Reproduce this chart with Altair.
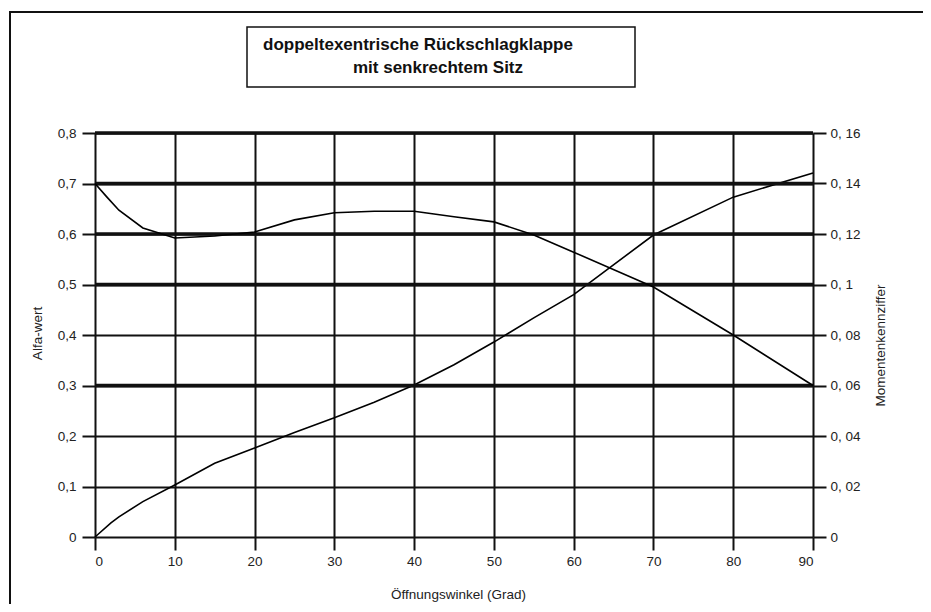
import altair as alt
import pandas as pd

# ---- data ----
winkel_alfa = [0, 2, 3, 6, 10, 15, 20, 25, 30, 35, 40, 45, 50, 55, 60, 70, 80, 90]
alfa = [0, 0.028, 0.04, 0.07, 0.103, 0.146, 0.176, 0.207, 0.236, 0.267, 0.301,
        0.341, 0.386, 0.434, 0.48, 0.598, 0.673, 0.721]

winkel_moment = [0, 1.5, 3, 6, 10, 15, 20, 25, 30, 35, 40, 45, 50, 55, 60, 70, 80, 90]
moment = [0.14, 0.1346, 0.1294, 0.1224, 0.1184, 0.1192, 0.1208, 0.1256, 0.1284,
          0.129, 0.129, 0.1268, 0.1248, 0.1196, 0.1128, 0.099, 0.08, 0.06]

x_ticks = [0, 10, 20, 30, 40, 50, 60, 70, 80, 90]
alfa_ticks = [0, 0.1, 0.2, 0.3, 0.4, 0.5, 0.6, 0.7, 0.8]
moment_ticks = [0, 0.02, 0.04, 0.06, 0.08, 0.1, 0.12, 0.14, 0.16]
thick_grid = [0.3, 0.5, 0.6, 0.7, 0.8]
title_lines = ["doppeltexentrische Rückschlagklappe", "mit senkrechtem Sitz"]

x_title = "Öffnungswinkel (Grad)"
left_title = "Alfa-wert"
right_title = "Momentenkennziffer"

# ---- tables ----
df_alfa = pd.DataFrame({"w": winkel_alfa, "v": alfa})
df_moment = pd.DataFrame({"w": winkel_moment, "v": moment})
df_thick = pd.DataFrame({"v": thick_grid})
df_one = pd.DataFrame({"k": [0]})

W, H = 718, 404
FONT = "Liberation Sans"
INK = "#111111"
LABEL = "#222222"
LFS = 13.5

x_enc = alt.X(
    "w:Q",
    scale=alt.Scale(domain=[0, 90], nice=False),
    axis=alt.Axis(
        values=x_ticks, title=x_title, grid=True, gridColor=INK, gridWidth=2,
        tickSize=13, tickWidth=2, tickColor=INK, domain=False,
        labelPadding=4, labelFont=FONT, labelFontSize=LFS, labelColor=LABEL,
        titleFont=FONT, titleFontSize=LFS, titleFontWeight="normal", titleColor=LABEL,
        titleX=363, titleY=57, titleBaseline="middle", format="d",
    ),
)

frame = alt.Chart(df_one).mark_rect(fill=None, stroke=INK, strokeWidth=2).encode(
    x=alt.value(-85), x2=alt.value(950), y=alt.value(-121), y2=alt.value(700)
)

alfa_line = alt.Chart(df_alfa).mark_line(color="black", strokeWidth=1.6).encode(
    x=x_enc,
    y=alt.Y(
        "v:Q",
        scale=alt.Scale(domain=[0, 0.8], nice=False),
        axis=alt.Axis(
            orient="left", values=alfa_ticks, title=left_title, grid=True,
            gridColor=INK, gridWidth=2, tickSize=13, tickWidth=2, tickColor=INK,
            domain=False, labelPadding=6, labelFont=FONT, labelFontSize=LFS,
            labelColor=LABEL,
            labelExpr="datum.value == 0 ? '0' : replace(format(datum.value, '.1f'), '.', ',')",
            titleFont=FONT, titleFontSize=LFS, titleFontWeight="normal", titleColor=LABEL,
            titleAngle=270, titleX=-58, titleY=200, titleBaseline="middle",
        ),
    ),
)

thick_rules = alt.Chart(df_thick).mark_rule(color=INK, strokeWidth=3.5).encode(
    y=alt.Y("v:Q", scale=alt.Scale(domain=[0, 0.8], nice=False), axis=None)
)

moment_line = alt.Chart(df_moment).mark_line(color="black", strokeWidth=1.6).encode(
    x=x_enc,
    y=alt.Y(
        "v:Q",
        scale=alt.Scale(domain=[0, 0.16], nice=False),
        axis=alt.Axis(
            orient="right", values=moment_ticks, title=right_title, grid=False,
            tickSize=13, tickWidth=2, tickColor=INK, domain=False,
            labelPadding=4, labelFont=FONT, labelFontSize=LFS, labelColor=LABEL,
            labelExpr="datum.value == 0 ? '0' : replace(format(datum.value, '.2~f'), '.', ', ')",
            titleFont=FONT, titleFontSize=LFS, titleFontWeight="normal", titleColor=LABEL,
            titleAngle=270, titleX=67, titleY=212, titleBaseline="middle",
        ),
    ),
)

box = alt.Chart(df_one).mark_rect(fill="white", stroke=INK, strokeWidth=1.5).encode(
    x=alt.value(152), x2=alt.value(540), y=alt.value(-106), y2=alt.value(-46)
)

t1 = alt.Chart(pd.DataFrame({"t": [title_lines[0]]})).mark_text(
    font=FONT, fontSize=17, fontWeight="bold", color="#111", align="center", baseline="middle"
).encode(text="t:N", x=alt.value(323), y=alt.value(-88))

t2 = alt.Chart(pd.DataFrame({"t": [title_lines[1]]})).mark_text(
    font=FONT, fontSize=17, fontWeight="bold", color="#111", align="center", baseline="middle"
).encode(text="t:N", x=alt.value(343), y=alt.value(-65))

chart = (
    alt.layer(frame, alfa_line, thick_rules, moment_line, box, t1, t2)
    .resolve_scale(y="independent")
    .properties(
        width=W, height=H,
        autosize=alt.AutoSizeParams(type="none"),
        padding={"left": 87, "top": 125, "right": 110, "bottom": 67},
        background="white",
    )
    .configure_view(stroke=None)
)

chart.save("out.html", embed_options={"renderer": "svg", "actions": False})
